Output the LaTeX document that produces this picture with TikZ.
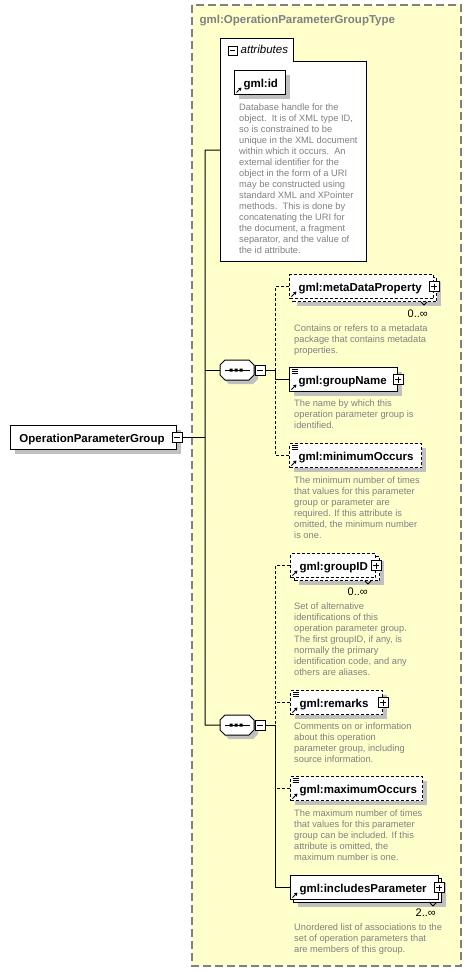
\documentclass[tikz,border=0pt]{standalone}
\usepackage{fontspec}
\setmainfont{Liberation Sans}
\usetikzlibrary{shadows,arrows.meta}

\definecolor{xsdyellow}{RGB}{255,255,204}
\definecolor{xsdgray}{RGB}{128,128,128}
\definecolor{shadowgray}{RGB}{192,192,192}
\definecolor{descgray}{RGB}{128,128,128}

\newcommand\lblfont{\fontsize{11.5}{13}\selectfont\bfseries}
\newcommand\descfont{\fontsize{9.3}{11}\selectfont}
% small icons drawn inside the element boxes
\newcommand\refarrow{\draw[solid, line width=1pt, -{Triangle[length=3pt,width=3.5pt]}] ([shift={(2,-2)}]path picture bounding box.south west) -- ++(5,-5);}
\newcommand\textlines{\draw[solid, line width=0.8pt] ([shift={(2,2)}]path picture bounding box.north west) -- ++(6,0) ([shift={(2,4)}]path picture bounding box.north west) -- ++(6,0) ([shift={(2,6)}]path picture bounding box.north west) -- ++(6,0);}
% octagon of a sequence compositor, from the corner of its node
\newcommand\octagon[2]{([shift={#2}]#1.north west) ++(5,0) -- ++(24,0) -- ++(5,5) -- ++(0,10) -- ++(-5,5) -- ++(-24,0) -- ++(-5,-5) -- ++(0,-10) -- cycle}

\tikzset{
  elem/.style={draw, fill=white, line width=1pt, anchor=north west, inner xsep=9pt, inner ysep=0pt,
    minimum height=24pt, align=left, font=\lblfont, text height=9.5pt, text depth=0.5pt, path picture={\refarrow}},
  simple/.style={path picture={\refarrow\textlines}},
  optional/.style={dash pattern=on 3pt off 2pt},
  shadowed/.style={drop shadow={shadow xshift=4pt, shadow yshift=-4pt, fill=shadowgray, opacity=1}},
  backbox/.style={draw, fill=white, line width=1pt, anchor=north west, inner sep=0pt, minimum height=24pt, shadowed},
  toggle/.style={draw, fill=white, line width=0.8pt, minimum size=10pt, inner sep=0pt},
  minus/.style={toggle, path picture={\draw[line width=0.8pt] ([shift={(2,0)}]path picture bounding box.west) -- ([shift={(-2,0)}]path picture bounding box.east);}},
  plus/.style={toggle, path picture={\draw[line width=0.8pt] ([shift={(2,0)}]path picture bounding box.west) -- ([shift={(-2,0)}]path picture bounding box.east) ([shift={(0,2)}]path picture bounding box.north) -- ([shift={(0,-2)}]path picture bounding box.south);}},
  seqbox/.style={rectangle, minimum width=34pt, minimum height=20pt, inner sep=0pt, anchor=north west},
  desc/.style={anchor=north west, inner sep=0pt, align=left, font=\descfont, text=descgray},
  card/.style={anchor=base east, inner sep=0pt, font=\fontsize{11}{13}\selectfont},
  conn/.style={line width=1pt},
  optline/.style={line width=1pt, dash pattern=on 3pt off 2pt}
}

\begin{document}
\begin{tikzpicture}[x=1pt,y=-1pt]
\fill[white] (0,0) rectangle (471,972);
\useasboundingbox (0,0) rectangle (471,972);

% complex type frame
\draw[xsdgray, line width=1.5pt, dash pattern=on 8pt off 4pt, fill=xsdyellow] (192,5) rectangle (461,966);
\node[anchor=base west, inner sep=0pt, font=\lblfont, text=xsdgray] (title) at (199.5,23) {gml:OperationParameterGroupType};

% attributes
\node[draw, fill=white, line width=1pt, anchor=north west, minimum width=146pt, minimum height=200pt] (attrbox) at (220,61) {};
\node[draw, fill=white, line width=1pt, anchor=north west, minimum width=73pt, minimum height=23pt] (attrtab) at (220,38) {};
\draw[white, line width=1.4pt] ([shift={(1,0)}]attrtab.south west) -- ([shift={(-1,0)}]attrtab.south east);
\node[minus, minimum size=9pt] (attrpm) at (232.5,50.5) {};
\node[anchor=base west, inner sep=0pt, font=\fontsize{11.5}{13}\selectfont\itshape] (attrlbl) at (240.5,53.5) {attributes};
\node[elem, shadowed, text width=33pt] (gid) at (234,70) {gml:id};
\node[desc] (giddesc) at (239,103.3) {Database handle for the\\object.\ \ It is of XML type ID,\\so is constrained to be\\unique in the XML document\\within which it occurs.\ \ An\\external identifier for the\\object in the form of a URI\\may be constructed using\\standard XML and XPointer\\methods.\ \ This is done by\\concatenating the URI for\\the document, a fragment\\separator, and the value of\\the id attribute.};

% root element
\node[elem, shadowed, text width=148pt, path picture={}] (root) at (10,425) {OperationParameterGroup};
\node[minus] (rootpm) at (root.east) {};

% sequences
\node[seqbox] (seq1) at (220,360) {};
\fill[shadowgray] \octagon{seq1}{(4,4)};
\draw[conn, fill=white] \octagon{seq1}{(0,0)};
\draw[conn] ([shift={(5,0)}]seq1.west) -- ([shift={(-4,0)}]seq1.east);
\fill ([shift={(11,0)}]seq1.west) +(-1.5,-1.5) rectangle +(1.5,1.5)
      ([shift={(16,0)}]seq1.west) +(-1.5,-1.5) rectangle +(1.5,1.5)
      ([shift={(21,0)}]seq1.west) +(-1.5,-1.5) rectangle +(1.5,1.5);
\node[minus] (seq1pm) at ([shift={(6,0)}]seq1.east) {};

\node[seqbox] (seq2) at (220,715) {};
\fill[shadowgray] \octagon{seq2}{(4,4)};
\draw[conn, fill=white] \octagon{seq2}{(0,0)};
\draw[conn] ([shift={(5,0)}]seq2.west) -- ([shift={(-4,0)}]seq2.east);
\fill ([shift={(11,0)}]seq2.west) +(-1.5,-1.5) rectangle +(1.5,1.5)
      ([shift={(16,0)}]seq2.west) +(-1.5,-1.5) rectangle +(1.5,1.5)
      ([shift={(21,0)}]seq2.west) +(-1.5,-1.5) rectangle +(1.5,1.5);
\node[minus] (seq2pm) at ([shift={(6,0)}]seq2.east) {};

% first sequence
\node[backbox, optional, minimum width=144pt] (metaback) at (292,277) {};
\node[elem, optional, text width=126pt] (meta) at (289,274) {gml:metaDataProperty};
\node[plus] (metapm) at (meta.east) {};
\draw[line width=0.8pt] ([shift={(-16,0)}]metaback.south east) -- ++(3,3) -- ++(3,-3);
\node[card] (metacard) at ([shift={(-9,15)}]metaback.south east) {0..∞};
\node[desc] (metadesc) at (294,324.3) {Contains or refers to a metadata\\package that contains metadata\\properties.};

\node[elem, simple, shadowed, text width=90pt] (gname) at (289,367) {gml:groupName};
\node[plus] (gnamepm) at (gname.east) {};
\node[desc] (gnamedesc) at (294,400) {The name by which this\\operation parameter group is\\identified.};

\node[elem, simple, optional, shadowed, text width=114pt] (minocc) at (289,443) {gml:minimumOccurs};
\node[desc] (minoccdesc) at (294,476.3) {The minimum number of times\\that values for this parameter\\group or parameter are\\required. If this attribute is\\omitted, the minimum number\\is one.};

% second sequence
\node[backbox, optional, minimum width=85pt] (grpidback) at (294,556) {};
\node[elem, optional, text width=67pt] (grpid) at (290,553) {gml:groupID};
\node[plus] (grpidpm) at (grpid.east) {};
\draw[line width=0.8pt] ([shift={(-15,0)}]grpidback.south east) -- ++(3,3) -- ++(3,-3);
\node[card] (grpidcard) at ([shift={(-12,14)}]grpidback.south east) {0..∞};
\node[desc] (grpiddesc) at (294,602.3) {Set of alternative\\identifications of this\\operation parameter group.\\The first groupID, if any, is\\normally the primary\\identification code, and any\\others are aliases.};

\node[elem, simple, optional, shadowed, text width=74pt] (remarks) at (290,690) {gml:remarks};
\node[plus] (remarkspm) at (remarks.east) {};
\node[desc] (remarksdesc) at (294,722.3) {Comments on or information\\about this operation\\parameter group, including\\source information.};

\node[elem, simple, optional, shadowed, text width=114pt] (maxocc) at (290,776) {gml:maximumOccurs};
\node[desc] (maxoccdesc) at (294,809.3) {The maximum number of times\\that values for this parameter\\group can be included. If this\\attribute is omitted, the\\maximum number is one.};

\node[backbox, minimum width=148pt] (inclback) at (293,878) {};
\node[elem, text width=130pt] (incl) at (290,875) {gml:includesParameter};
\node[plus] (inclpm) at (incl.east) {};
\draw[line width=0.8pt] ([shift={(-12,0)}]inclback.south east) -- ++(3,3) -- ++(3,-3);
\node[card] (inclcard) at ([shift={(-6,13)}]inclback.south east) {2..∞};
\node[desc] (incldesc) at (294,924) {Unordered list of associations to the\\set of operation parameters that\\are members of this group.};

% connectors
\coordinate (trunktop) at (205,150);
\coordinate (trunkbot) at (205,725);
\draw[conn] (trunktop -| attrbox.west) -- (trunktop) -- (trunkbot) -- (seq2.west);
\draw[conn] (rootpm.east) -- (rootpm.east -| trunktop);
\draw[conn] (seq1.west -| trunktop) -- (seq1.west);

\coordinate (fork1) at ([shift={(10,0)}]seq1pm.east);
\draw[conn] (seq1pm.east) -- (fork1) |- (gname.west);
\draw[optline] (meta.west) -| (fork1);
\draw[optline] (minocc.west) -| (fork1 |- gname.west);

\coordinate (fork2) at ([shift={(10,0)}]seq2pm.east);
\draw[conn] (seq2pm.east) -- (fork2) |- (incl.west);
\draw[optline] (grpid.west) -| (fork2);
\draw[optline] (remarks.west) -- (remarks.west -| fork2);
\draw[optline] (maxocc.west) -- (maxocc.west -| fork2);
\end{tikzpicture}
\end{document}
